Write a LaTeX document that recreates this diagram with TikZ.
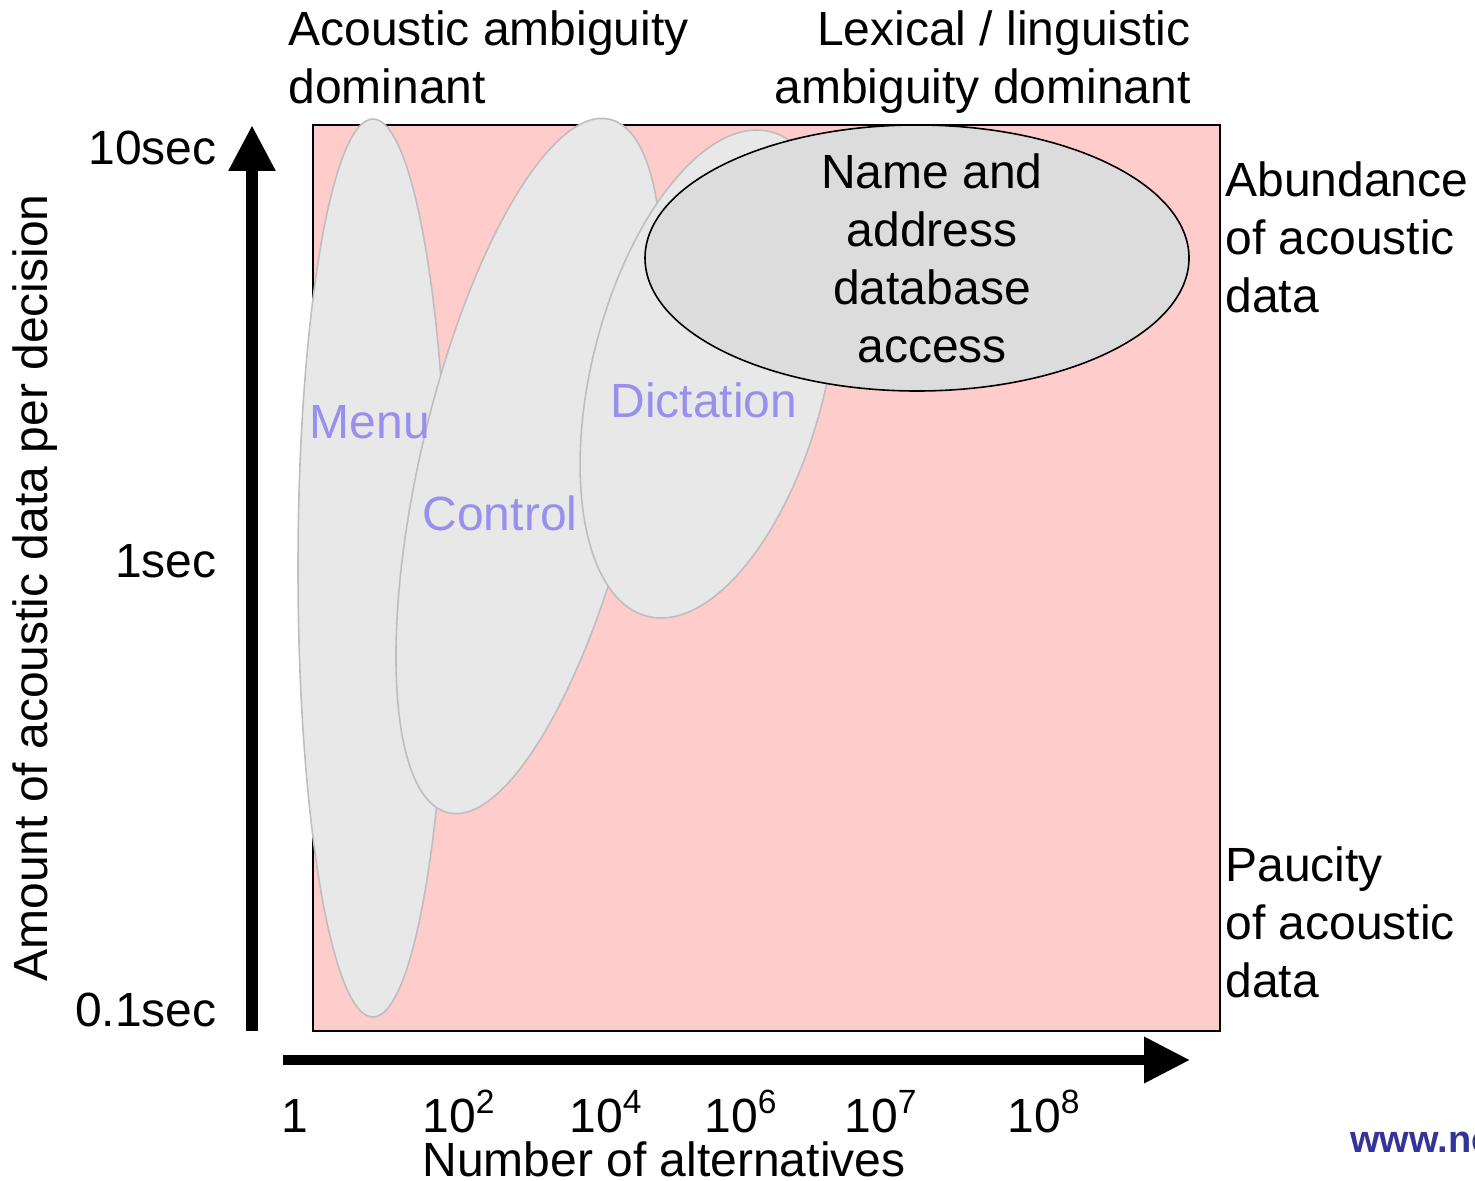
\documentclass[tikz,border=0pt]{standalone}
\usepackage{fontspec}
\setmainfont{Liberation Sans}
\usepackage{xcolor}
\usepackage{tikz}
\usetikzlibrary{positioning, arrows.meta, shapes.geometric}

\definecolor{plotpink}{HTML}{FFCCCC}
\definecolor{blobgray}{HTML}{E8E8E8}
\definecolor{blobline}{HTML}{BEBEBE}
\definecolor{namegray}{HTML}{DCDCDC}
\definecolor{tasklabel}{HTML}{9990EE}
\definecolor{weblink}{HTML}{333399}

\begin{document}
\begin{tikzpicture}[
    x=0.5pt, y=-0.5pt,
    every node/.style={font=\fontsize{24}{29}\selectfont, inner sep=0pt},
    blob/.style={ellipse, draw=blobline, fill=blobgray, line width=0.8pt},
    nameblob/.style={ellipse, draw=black, fill=namegray, line width=0.8pt},
    task_label/.style={text=tasklabel},
    axis_arrow/.style={line width=#1, -{Triangle[width=22pt, length=23pt]}}
]

\useasboundingbox (0,0) rectangle (1475,1181);

% Plot area
\filldraw[fill=plotpink, draw=black, line width=1pt] (313,125) rectangle (1220,1031);

% Regions
\node[blob, minimum width=75pt, minimum height=449pt] (menu) at (373,568) {};
\node[blob, minimum width=108.6pt, minimum height=356pt, rotate=-13.1] (control) at (529,466) {};
\node[blob, minimum width=116.8pt, minimum height=250pt, rotate=-14.3] (dictation) at (709,374) {};
\node[nameblob, minimum width=272pt, minimum height=133pt] (nameacc) at (917,258) {};

% Region labels
\node[task_label] (menulbl) at (370,422) {Menu};
\node[task_label] (controllbl) at (500,513) {Control};
\node[task_label] (dictlbl) at (704,400) {Dictation};
\node[align=center] (namelbl) at (932,258) {Name and\\address\\database\\access};

% Axes
\coordinate (yfoot) at (252,1031);
\coordinate (ytip) at (252,125);
\coordinate (xfoot) at (283,1060);
\coordinate (xtip) at (1190,1060);
\draw[axis_arrow=6pt] (yfoot) -- (ytip);
\draw[axis_arrow=5pt] (xfoot) -- (xtip);

% Tick labels
\node[anchor=east] (t10s) at (217,148) {10sec};
\node[anchor=east] (t1s) at (217,561) {1sec};
\node[anchor=east] (t01s) at (217,1010) {0.1sec};
\node[anchor=base] (n0) at (295,1132) {1};
\node[anchor=base] (n2) at (459,1132) {10\textsuperscript{2}};
\node[anchor=base] (n4) at (606,1132) {10\textsuperscript{4}};
\node[anchor=base] (n6) at (741,1132) {10\textsuperscript{6}};
\node[anchor=base] (n7) at (881,1132) {10\textsuperscript{7}};
\node[anchor=base] (n8) at (1044,1132) {10\textsuperscript{8}};

% Axis titles
\node[rotate=90] (ytitle) at (35,588) {Amount of acoustic data per decision};
\node[anchor=base] (xtitle) at (664,1176) {Number of alternatives};

% Side notes
\node[anchor=north west, align=left] (acamb) at (288,10) {Acoustic ambiguity\\dominant};
\node[anchor=north east, align=right] (lexamb) at (1191,10) {Lexical / linguistic\\ambiguity dominant};
\node[anchor=north west, align=left] (abund) at (1225,161) {Abundance\\of acoustic\\data};
\node[anchor=north west, align=left] (paucity) at (1225,846) {Paucity\\of acoustic\\data};
\node[anchor=base west, font=\fontsize{19}{22}\selectfont\bfseries, text=weblink] (web) at (1350,1152) {www.ne};

\end{tikzpicture}
\end{document}
